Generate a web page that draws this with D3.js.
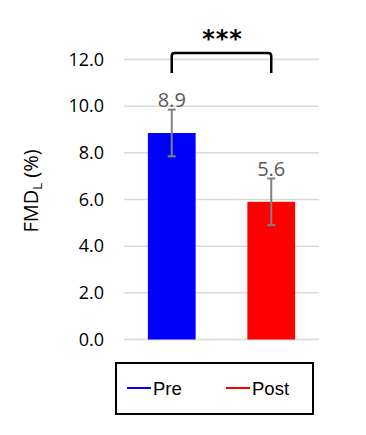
<!DOCTYPE html>
<html>
<head>
<meta charset="utf-8">
<script src="https://cdn.jsdelivr.net/npm/d3@7"></script>
<style>
  body { margin: 0; background: #fff; }
  svg { display: block; }
</style>
</head>
<body>
<div id="chart"></div>
<script>
// data
const groups = ["Pre", "Post"];
const means = [8.85, 5.9];
const errors = [1.0, 1.0];
const valueLabels = ["8.9", "5.6"];
const colors = ["#0000ff", "#ff0000"];
const yTicks = [0, 2, 4, 6, 8, 10, 12];

const svgWidth = 366;
const svgHeight = 435;

const svg = d3.select("#chart").append("svg")
    .attr("width", svgWidth)
    .attr("height", svgHeight);

// plot area
const plotLeft = 124, plotRight = 319;
const yScale = d3.scaleLinear().domain([0, 12]).range([339.5, 59.5]);
const xScale = d3.scaleBand()
    .domain(groups)
    .range([plotLeft, plotRight])
    .paddingInner(0.52)
    .paddingOuter(0.24);

// gridlines
svg.append("g")
    .selectAll("line")
    .data(yTicks)
    .join("line")
    .attr("x1", plotLeft)
    .attr("x2", plotRight)
    .attr("y1", d => yScale(d))
    .attr("y2", d => yScale(d))
    .attr("stroke", "#d9d9d9")
    .attr("stroke-width", 1.5);

// y axis labels
const yAxis = d3.axisLeft(yScale)
    .tickValues(yTicks)
    .tickFormat(d3.format(".1f"))
    .tickSize(0)
    .tickPadding(20);

svg.append("g")
    .attr("transform", `translate(${plotLeft}, 0)`)
    .call(yAxis)
    .call(g => g.select(".domain").remove())
    .call(g => g.selectAll("text")
        .attr("font-family", "'Open Sans', sans-serif")
        .attr("font-size", 18)
        .attr("fill", "#000"));

// bars
svg.append("g")
    .selectAll("rect")
    .data(means)
    .join("rect")
    .attr("x", (d, i) => xScale(groups[i]))
    .attr("y", d => yScale(d))
    .attr("width", xScale.bandwidth())
    .attr("height", d => yScale(0) - yScale(d))
    .attr("fill", (d, i) => colors[i]);

// error bars
const errG = svg.append("g")
    .attr("stroke", "#808080")
    .attr("stroke-width", 2);

means.forEach((m, i) => {
    const cx = xScale(groups[i]) + xScale.bandwidth() / 2;
    const top = yScale(m + errors[i]);
    const bottom = yScale(m - errors[i]);
    errG.append("line").attr("x1", cx).attr("x2", cx).attr("y1", top).attr("y2", bottom);
    errG.append("line").attr("x1", cx - 4).attr("x2", cx + 4).attr("y1", top).attr("y2", top);
    errG.append("line").attr("x1", cx - 4).attr("x2", cx + 4).attr("y1", bottom).attr("y2", bottom);
});

// value labels
svg.append("g")
    .selectAll("text")
    .data(valueLabels)
    .join("text")
    .attr("x", (d, i) => xScale(groups[i]) + xScale.bandwidth() / 2)
    .attr("y", (d, i) => yScale(means[i] + errors[i]) - 3)
    .attr("text-anchor", "middle")
    .attr("font-family", "'Open Sans', sans-serif")
    .attr("font-size", 20)
    .attr("fill", "#595959")
    .text(d => d);

// y axis title
const yTitle = svg.append("text")
    .attr("transform", "translate(38, 191) rotate(-90)")
    .attr("text-anchor", "middle")
    .attr("font-family", "'Open Sans', sans-serif")
    .attr("font-size", 20)
    .attr("fill", "#000");
yTitle.append("tspan").text("FMD");
yTitle.append("tspan").attr("font-size", 13).attr("dy", 4).text("L");
yTitle.append("tspan").attr("dy", -4).text(" (%)");

// significance bracket
const x1 = xScale(groups[0]) + xScale.bandwidth() / 2;
const x2 = xScale(groups[1]) + xScale.bandwidth() / 2;
const by = 53, bEnd = 73, r = 3;
svg.append("path")
    .attr("d", `M${x1},${bEnd} L${x1},${by + r} Q${x1},${by} ${x1 + r},${by} L${x2 - r},${by} Q${x2},${by} ${x2},${by + r} L${x2},${bEnd}`)
    .attr("fill", "none")
    .attr("stroke", "#000")
    .attr("stroke-width", 2.5);

svg.append("text")
    .attr("x", (x1 + x2) / 2 + 1)
    .attr("y", 47)
    .attr("text-anchor", "middle")
    .attr("font-family", "'DejaVu Sans', sans-serif")
    .attr("font-weight", "bold")
    .attr("font-size", 24)
    .attr("letter-spacing", 1)
    .attr("fill", "#000")
    .text("***");

// legend
const legend = svg.append("g");
legend.append("rect")
    .attr("x", 116)
    .attr("y", 363)
    .attr("width", 197)
    .attr("height", 51)
    .attr("fill", "none")
    .attr("stroke", "#000")
    .attr("stroke-width", 2);

const legendX = [127, 226];
groups.forEach((g, i) => {
    legend.append("line")
        .attr("x1", legendX[i])
        .attr("x2", legendX[i] + 24)
        .attr("y1", 388)
        .attr("y2", 388)
        .attr("stroke", colors[i])
        .attr("stroke-width", 2);
    legend.append("text")
        .attr("x", legendX[i] + 26)
        .attr("y", 395)
        .attr("font-family", "'Liberation Sans', Arial, sans-serif")
        .attr("font-size", 18.5)
        .attr("fill", "#000")
        .text(g);
});
</script>
</body>
</html>
